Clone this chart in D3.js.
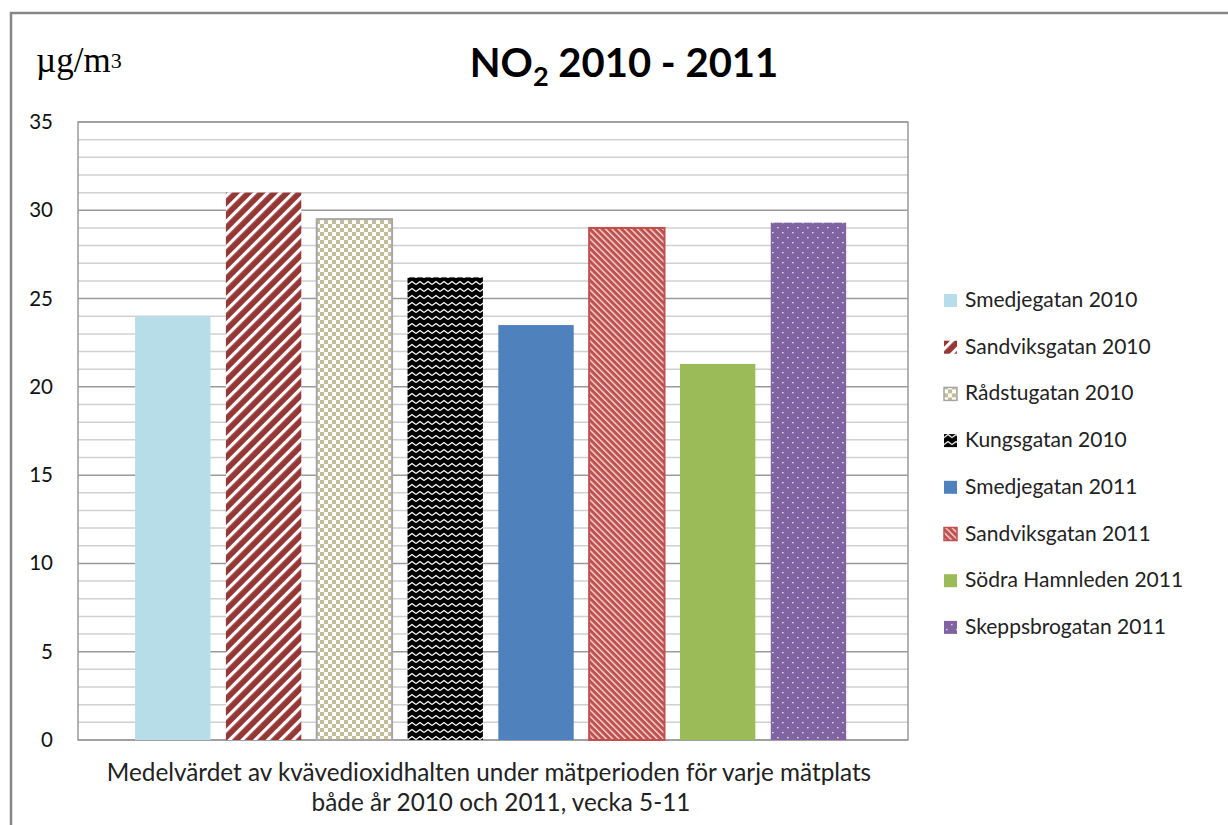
<!DOCTYPE html>
<html><head><meta charset="utf-8">
<script src="https://cdn.jsdelivr.net/npm/d3@7"></script>
<style>body{margin:0;background:#fff}svg{display:block}</style>
</head><body>
<script>
const categories = ["Smedjegatan 2010","Sandviksgatan 2010","Rådstugatan 2010","Kungsgatan 2010","Smedjegatan 2011","Sandviksgatan 2011","Södra Hamnleden 2011","Skeppsbrogatan 2011"];
const values = [24.0, 31.0, 29.5, 26.2, 23.5, 29.0, 21.3, 29.3];
const yTicks = [0,5,10,15,20,25,30,35];
const fills = ["#B7DDE8","url(#p1)","url(#p2)","url(#p3)","#4F81BD","url(#p5)","#9BBB59","url(#p7)"];
const strokes = ["none","none","#A6A6A6","none","none","#C0504D","none","none"];

const W=1228,H=825;
const svg=d3.select("body").append("svg").attr("width",W).attr("height",H);
const defs=svg.append("defs");
let p=defs.append("pattern").attr("id","p1").attr("patternUnits","userSpaceOnUse").attr("width",9).attr("height",9).attr("patternTransform","rotate(45)");
p.append("rect").attr("width",9).attr("height",9).attr("fill","#953735");
p.append("rect").attr("x",0).attr("width",3.2).attr("height",9).attr("fill","#fff");
p=defs.append("pattern").attr("id","p2").attr("patternUnits","userSpaceOnUse").attr("width",8).attr("height",8);
p.append("rect").attr("width",8).attr("height",8).attr("fill","#fff");
p.append("rect").attr("width",4).attr("height",4).attr("fill","#C4BD97");
p.append("rect").attr("x",4).attr("y",4).attr("width",4).attr("height",4).attr("fill","#C4BD97");
p=defs.append("pattern").attr("id","p3").attr("patternUnits","userSpaceOnUse").attr("width",8).attr("height",7);
p.append("rect").attr("width",8).attr("height",7).attr("fill","#000");
p.append("path").attr("d","M0,4.5 L4,1.5 L8,4.5").attr("fill","none").attr("stroke","#fff").attr("stroke-width",1.2);
p=defs.append("pattern").attr("id","p5").attr("patternUnits","userSpaceOnUse").attr("width",4.5).attr("height",4.5).attr("patternTransform","rotate(-45)");
p.append("rect").attr("width",4.5).attr("height",4.5).attr("fill","#C0504D");
p.append("rect").attr("width",1.4).attr("height",4.5).attr("fill","#F2DCDB");
p=defs.append("pattern").attr("id","p7").attr("patternUnits","userSpaceOnUse").attr("width",10).attr("height",10);
p.append("rect").attr("width",10).attr("height",10).attr("fill","#8064A2");
p.append("rect").attr("x",2).attr("y",2).attr("width",1.6).attr("height",1.3).attr("fill","#E0D8EA");
p.append("rect").attr("x",7).attr("y",7).attr("width",1.6).attr("height",1.3).attr("fill","#E0D8EA");

svg.append("rect").attr("x",11).attr("y",13).attr("width",1240).attr("height",850).attr("fill","#fff").attr("stroke","#868686").attr("stroke-width",2.5);

const x0=78,x1=908,yTop=122,yBot=740;
const y=d3.scaleLinear().domain([0,35]).range([yBot,yTop]);
const x=d3.scaleBand().domain(categories).range([x0,x1]).paddingInner(0.17).paddingOuter(0.655).align(0.48);

const g=svg.append("g");
g.selectAll("line.minor").data(d3.range(1,35).filter(v=>v%5!==0)).join("line")
 .attr("x1",x0).attr("x2",x1).attr("y1",d=>y(d)).attr("y2",d=>y(d)).attr("stroke","#D0D0D0").attr("stroke-width",1.5);
g.selectAll("line.major").data(yTicks).join("line")
 .attr("x1",x0).attr("x2",x1).attr("y1",d=>y(d)).attr("y2",d=>y(d)).attr("stroke","#9A9A9A").attr("stroke-width",1.5);
svg.append("rect").attr("x",x0).attr("y",yTop).attr("width",x1-x0).attr("height",yBot-yTop).attr("fill","none").attr("stroke","#9A9A9A").attr("stroke-width",1.5);

const yAxis=d3.axisLeft(y).tickValues(yTicks).tickSize(0).tickPadding(0);
const ya=svg.append("g").attr("transform","translate(53,0)").call(yAxis);
ya.select(".domain").remove();
ya.selectAll("text").attr("font-family","Lato, 'Open Sans', sans-serif").attr("font-size",20.5).attr("fill","#111");

svg.selectAll("rect.bar").data(categories).join("rect").attr("class","bar")
 .attr("x",d=>x(d)).attr("width",x.bandwidth())
 .attr("y",(d,i)=>y(values[i])).attr("height",(d,i)=>y(0)-y(values[i]))
 .attr("fill",(d,i)=>fills[i]).attr("stroke",(d,i)=>strokes[i]).attr("stroke-width",2);

const t=svg.append("text").attr("x",624).attr("y",77).attr("text-anchor","middle")
 .attr("font-family","Lato, 'Open Sans', sans-serif").attr("font-weight","bold").attr("font-size",40).attr("fill","#000");
t.append("tspan").text("NO");
t.append("tspan").attr("font-size",27).attr("dy",9).text("2");
t.append("tspan").attr("dy",-9).text(" 2010 - 2011");

const u=svg.append("text").attr("x",36).attr("y",72).attr("font-family","'Liberation Serif', 'DejaVu Serif', serif").attr("font-size",35).attr("fill","#000");
u.append("tspan").text("µg/m");
u.append("tspan").attr("font-size",22).attr("dy",-4).text("3");

const xt=svg.append("text").attr("text-anchor","middle").attr("font-family","Lato, 'Open Sans', sans-serif").attr("font-size",24.3).attr("fill","#222");
xt.append("tspan").attr("x",489).attr("y",781).text("Medelvärdet av kvävedioxidhalten under mätperioden för varje mätplats");
xt.append("tspan").attr("x",501).attr("y",811).text("både år 2010 och 2011, vecka 5-11");

const lg=svg.append("g").selectAll("g").data(categories).join("g")
 .attr("transform",(d,i)=>`translate(944,${300+i*46.7})`);
lg.append("rect").attr("x",0).attr("y",-6).attr("width",13).attr("height",13)
 .attr("fill",(d,i)=>fills[i]).attr("stroke",(d,i)=>strokes[i]==="none"?"none":strokes[i]).attr("stroke-width",1.5);
lg.append("text").attr("x",21).attr("y",7).attr("font-family","Lato, 'Open Sans', sans-serif").attr("font-size",21).attr("fill","#222").text(d=>d);
</script>
</body></html>
